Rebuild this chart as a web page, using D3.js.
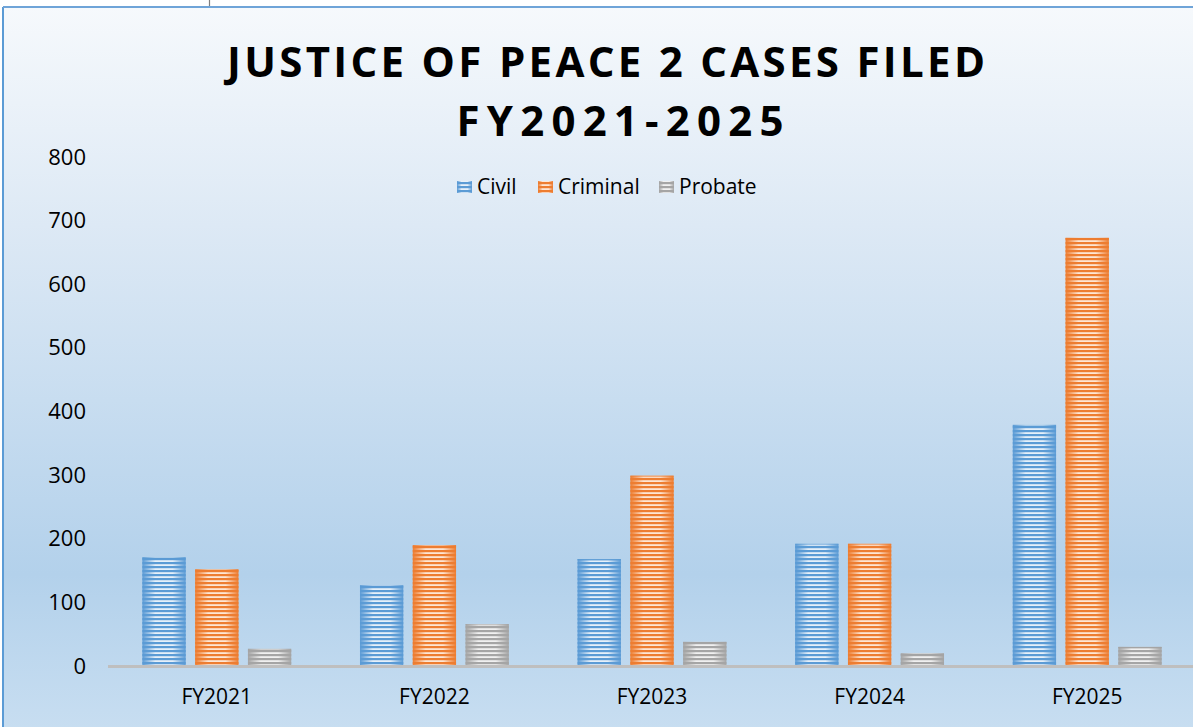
<!DOCTYPE html>
<html><head><meta charset="utf-8">
<script src="https://cdn.jsdelivr.net/npm/d3@7"></script>
<style>body{margin:0;background:#fff;}svg{display:block;}</style>
</head><body>
<svg id="c" width="1193" height="727"></svg>
<script>
const categories = ["FY2021","FY2022","FY2023","FY2024","FY2025"];
const seriesNames = ["Civil","Criminal","Probate"];
const civil    = [171, 127, 168, 192, 379];
const criminal = [152, 190, 299, 192, 673];
const probate  = [27, 66, 38, 20, 30];
const yTicks = [0,100,200,300,400,500,600,700,800];
const titleLines = ["JUSTICE OF PEACE 2 CASES FILED","FY2021-2025"];

const seriesValues = [civil, criminal, probate];
const colors = {Civil:"#5b9bd5", Criminal:"#ed7d31", Probate:"#a5a5a5"};
const lights = {Civil:"#e6f0f9", Criminal:"#fde6d4", Probate:"#f0f0f0"};

const W = 1193, H = 727;
const svg = d3.select("#c");
const defs = svg.append("defs");

const bg = defs.append("linearGradient").attr("id","bg").attr("x1",0).attr("y1",0).attr("x2",0).attr("y2",1);
bg.append("stop").attr("offset","0%").attr("stop-color","#f6f9fc");
bg.append("stop").attr("offset","30%").attr("stop-color","#dde9f5");
bg.append("stop").attr("offset","78%").attr("stop-color","#b3d1eb");
bg.append("stop").attr("offset","100%").attr("stop-color","#c8def1");

svg.append("rect").attr("x",3).attr("y",7).attr("width",W).attr("height",H).attr("fill","url(#bg)");
svg.append("line").attr("x1",3).attr("x2",3).attr("y1",7).attr("y2",H).attr("stroke","#5b9bd5").attr("stroke-width",2);
svg.append("line").attr("x1",3).attr("x2",W).attr("y1",7).attr("y2",7).attr("stroke","#6fa4d8").attr("stroke-width",2);
svg.append("line").attr("x1",209.5).attr("x2",209.5).attr("y1",0).attr("y2",6).attr("stroke","#7f7f7f").attr("stroke-width",1.2);

seriesNames.forEach(s=>{
  const g = defs.append("linearGradient").attr("id","g_"+s).attr("x1",0).attr("y1",0).attr("x2",1).attr("y2",0);
  g.append("stop").attr("offset","0%").attr("stop-color",colors[s]);
  g.append("stop").attr("offset","30%").attr("stop-color",lights[s]);
  g.append("stop").attr("offset","70%").attr("stop-color",lights[s]);
  g.append("stop").attr("offset","100%").attr("stop-color",colors[s]);
  const p = defs.append("pattern").attr("id","p_"+s).attr("patternUnits","userSpaceOnUse")
    .attr("width",8).attr("height",4).attr("y",666);
  p.append("rect").attr("x",0).attr("y",0).attr("width",8).attr("height",2.2).attr("fill",colors[s]);
});

const y = d3.scaleLinear().domain([0,800]).range([666,157]);
const x = d3.scaleBand().domain(categories).range([108, 108+5*217.6]).paddingInner(0).paddingOuter(0);
const xs = d3.scaleBand().domain(seriesNames).range([0, x.bandwidth()*0.684]).paddingInner(0.18).paddingOuter(0);
const groupOffset = (x.bandwidth() - x.bandwidth()*0.684)/2;

const yAxis = d3.axisLeft(y).tickValues(yTicks).tickSize(0).tickPadding(0);
const ya = svg.append("g").attr("transform","translate(86,0)").call(yAxis);
ya.select(".domain").remove();
ya.selectAll("text").attr("font-family","'Open Sans'").attr("font-size",22).attr("fill","#000");

const data = [];
categories.forEach((c,i)=>seriesNames.forEach((s,j)=>data.push({c,s,v:seriesValues[j][i]})));
const bars = svg.append("g");
data.forEach(d=>{
  const bx = x(d.c)+groupOffset+xs(d.s), bw = xs.bandwidth();
  const by = y(d.v), bh = y(0)-y(d.v);
  bars.append("rect").attr("x",bx).attr("y",by).attr("width",bw).attr("height",bh).attr("fill","url(#g_"+d.s+")");
  bars.append("rect").attr("x",bx).attr("y",by).attr("width",bw).attr("height",bh).attr("fill","url(#p_"+d.s+")");
  bars.append("rect").attr("x",bx).attr("y",by).attr("width",bw).attr("height",1.5).attr("fill",colors[d.s]).attr("opacity",0.45);
});

const xAxis = d3.axisBottom(x).tickSize(0).tickPadding(0);
const xa = svg.append("g").attr("transform","translate(0,666)").call(xAxis);
xa.select(".domain").remove();
xa.selectAll("text").attr("font-family","'Open Sans'").attr("font-size",21).attr("fill","#000").attr("y",38).attr("dy",0);
svg.append("line").attr("x1",108).attr("x2",W).attr("y1",666.5).attr("y2",666.5).attr("stroke","#bfbfbf").attr("stroke-width",3);

const targetW = [758, 327];
const baseY = [77, 136];
const centers = [606, 620];
titleLines.forEach((t,i)=>{
  const tx = svg.append("text").attr("x",centers[i]).attr("y",baseY[i]).attr("text-anchor","middle")
    .attr("font-family","'Open Sans'").attr("font-weight","bold").attr("font-size",42).attr("fill","#000").text(t);
  const w0 = tx.node().getComputedTextLength();
  const ls = (targetW[i]-w0)/(t.length-1);
  tx.attr("letter-spacing",ls).attr("x",centers[i]+ls/2);
});

const legendItems = [{s:"Civil",x:457},{s:"Criminal",x:538},{s:"Probate",x:659}];
const lg = svg.append("g");
legendItems.forEach(it=>{
  lg.append("rect").attr("x",it.x).attr("y",181).attr("width",15).attr("height",12).attr("fill","url(#g_"+it.s+")");
  lg.append("rect").attr("x",it.x).attr("y",181).attr("width",15).attr("height",12).attr("fill","url(#p_"+it.s+")");
  lg.append("text").attr("x",it.x+20).attr("y",194).attr("font-family","'Open Sans'").attr("font-size",21).attr("fill","#000").text(it.s);
});
</script>
</body></html>
